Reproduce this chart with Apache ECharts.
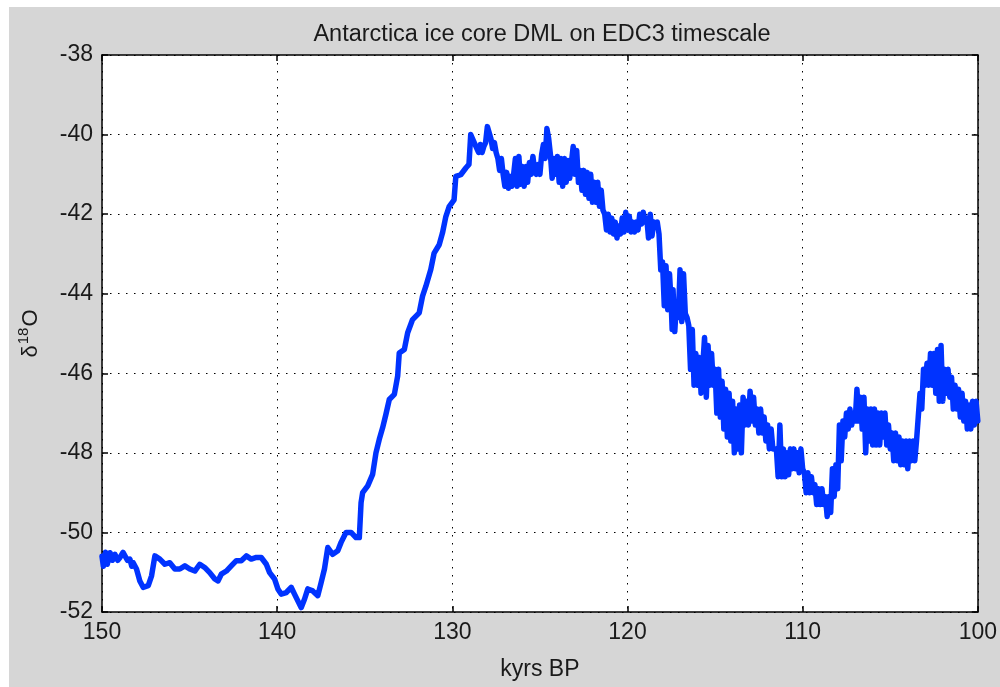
<!DOCTYPE html>
<html>
<head>
<meta charset="utf-8">
<script src="https://cdn.jsdelivr.net/npm/echarts@6/dist/echarts.min.js"></script>
<style>
html,body{margin:0;padding:0;background:#fff;}
#chart{width:1000px;height:687px;}
</style>
</head>
<body>
<div id="chart"></div>
<script>
// Age (kyrs BP)
const kyrBP = [
150.0,149.92,149.8,149.7,149.54,149.4,149.26,149.1,148.97,148.8,148.69,148.55,148.41,148.3,148.22,148.03,147.84,147.65,147.36,147.17,146.98,146.70,146.41,146.13,145.84,145.56,145.27,144.99,144.70,144.42,144.14,143.85,143.56,143.38,143.19,142.90,142.62,142.33,142.05,141.76,141.48,141.19,140.91,140.62,140.43,140.15,139.96,139.77,139.48,139.20,139.01,138.82,138.63,138.44,138.25,137.97,137.68,137.49,137.30,137.11,136.83,136.54,136.35,136.07,135.78,135.50,135.31,
135.21,135.12,134.83,134.55,134.36,134.17,133.98,133.79,133.60,133.31,133.12,133.03,132.74,132.55,132.27,131.89,131.70,131.51,131.23,131.04,130.75,130.56,130.37,130.18,129.90,129.80,129.52,129.23,
129.05,128.95,128.85,128.7,128.5,128.4,128.3,128.2,128.1,128.0,127.9,127.8,127.7,127.6,127.5,127.4,127.3,127.2,127.1,127.0,126.9,126.8,126.7,126.6,126.5,126.4,126.3,126.2,126.1,126.0,125.9,125.8,125.7,125.6,125.5,125.4,125.3,125.2,125.1,125.0,124.9,124.8,124.7,124.6,124.5,124.4,124.3,124.2,124.1,124.0,123.9,123.8,123.7,123.6,123.5,123.4,123.3,123.2,123.1,123.0,122.9,122.8,122.7,122.6,122.5,122.4,122.3,122.2,122.1,122.0,121.9,121.8,121.7,121.6,121.5,121.4,121.3,121.2,121.1,121.0,120.9,120.8,120.7,120.6,120.5,120.4,120.3,120.2,120.1,120.0,119.9,119.8,119.7,119.6,119.5,119.4,119.3,119.2,119.1,119.0,
118.9,118.8,118.7,118.6,118.5,118.4,118.3,118.2,118.1,118.0,117.9,117.8,117.7,117.6,117.5,117.45,117.4,117.3,117.2,117.1,117.0,116.9,116.8,116.7,116.6,116.5,116.4,116.3,116.2,116.1,116.0,115.9,115.8,115.6,115.5,115.4,115.3,115.2,115.1,115.0,114.9,114.8,114.7,114.6,114.5,114.4,114.3,114.2,114.1,114.0,113.9,113.8,113.7,113.6,113.5,113.4,113.3,113.2,113.1,113.0,112.9,112.8,112.7,112.6,112.5,112.4,112.3,112.2,112.1,112.0,111.9,111.8,111.7,111.5,111.4,111.3,111.2,111.1,111.0,110.9,110.8,110.7,110.6,110.5,110.4,110.3,110.2,
110.1,110.0,109.9,109.8,109.7,109.6,109.5,109.4,109.3,109.2,109.1,109.0,108.9,108.8,108.7,108.6,108.5,108.4,108.3,108.2,108.1,108.0,107.9,107.8,107.7,107.6,107.5,107.4,107.3,107.2,107.1,107.0,106.9,106.8,106.7,106.6,106.5,106.4,106.3,106.2,106.1,106.0,105.9,105.8,105.7,105.6,105.5,105.4,105.3,105.2,105.1,105.0,104.9,104.8,104.7,104.6,104.5,104.4,104.3,104.2,104.1,104.0,103.9,103.8,103.7,103.6,103.5,103.4,103.3,103.2,103.1,103.0,102.9,102.8,102.7,102.6,102.5,102.4,102.3,102.2,102.1,102.0,101.9,101.8,101.7,101.6,101.5,101.4,101.3,101.2,101.1,101.0,100.9,100.8,100.7,100.6,100.5,100.4,100.3,100.2,100.1,100.0
];
// delta 18O (per mil)
const d18O = [
-50.6,-50.85,-50.5,-50.8,-50.51,-50.7,-50.55,-50.7,-50.63,-50.5,-50.46,-50.7,-50.67,-50.85,-50.76,-50.92,-51.22,-51.38,-51.34,-51.09,-50.59,-50.67,-50.80,-50.76,-50.92,-50.92,-50.84,-50.92,-50.97,-50.80,-50.88,-51.01,-51.17,-51.22,-51.05,-50.97,-50.84,-50.71,-50.71,-50.59,-50.67,-50.63,-50.63,-50.80,-51.01,-51.17,-51.42,-51.55,-51.51,-51.38,-51.55,-51.72,-51.89,-51.68,-51.42,-51.47,-51.59,-51.26,-50.92,-50.38,-50.55,-50.46,-50.25,-50.00,-50.00,-50.13,-50.13,
-49.25,-49.00,-48.83,-48.54,-48.00,-47.66,-47.37,-47.03,-46.66,-46.53,-46.07,-45.49,-45.40,-44.98,-44.65,-44.48,-44.06,-43.81,-43.39,-42.98,-42.77,-42.47,-42.06,-41.81,-41.64,-41.05,-41.01,-40.84,
-40.75,-40.0,-40.1,-40.25,-40.45,-40.25,-40.45,-40.3,-40.2,-39.8,-39.85,-40.1,-40.35,-40.2,-40.45,-40.6,-40.9,-40.6,-41.0,-41.3,-40.95,-41.35,-41.05,-41.3,-41.0,-40.6,-41.3,-40.55,-41.25,-40.8,-41.3,-40.8,-41.2,-40.7,-41.0,-40.55,-40.9,-41.0,-40.75,-41.0,-40.5,-40.25,-40.6,-39.85,-40.1,-40.5,-41.1,-40.6,-41.0,-40.55,-41.2,-40.6,-41.3,-40.6,-41.2,-40.65,-41.1,-40.7,-40.3,-41.0,-40.4,-41.2,-40.9,-41.4,-40.9,-41.5,-40.95,-41.6,-41.0,-41.7,-41.2,-41.7,-41.2,-41.8,-41.4,-41.9,-42.0,-42.4,-42.0,-42.45,-42.1,-42.5,-42.2,-42.6,-42.3,-42.5,-42.1,-42.45,-41.95,-42.4,-42.05,-42.45,-42.2,-42.45,-42.2,-42.4,-42.0,-42.25,-41.95,-42.2,
-42.1,-42.6,-42.0,-42.55,-42.2,-42.3,-42.2,-42.5,-43.4,-43.2,-44.3,-43.3,-44.4,-43.5,-44.3,-44.9,-43.9,-44.95,-44.2,-44.6,-43.4,-44.7,-43.5,-44.5,-44.6,-44.8,-45.9,-44.9,-46.3,-45.5,-46.3,-45.6,-46.5,-45.1,-46.6,-45.3,-46.3,-45.5,-46.3,-45.9,-47.0,-45.9,-47.1,-46.2,-47.4,-46.4,-47.6,-46.5,-47.7,-46.7,-48.0,-46.9,-47.9,-46.8,-48.0,-46.6,-47.3,-46.7,-47.3,-46.45,-47.2,-46.6,-47.3,-46.9,-47.5,-46.9,-47.5,-47.1,-47.7,-47.3,-47.9,-47.4,-47.9,-47.9,-48.6,-47.3,-48.6,-47.9,-48.6,-48.0,-48.55,-47.9,-48.4,-47.9,-48.4,-48.0,-48.5,
-47.9,-48.4,-48.5,-49.0,-48.5,-49.0,-48.6,-49.0,-48.8,-49.3,-48.9,-49.3,-48.9,-49.3,-49.1,-49.6,-49.1,-49.5,-48.4,-49.1,-48.3,-48.9,-47.3,-48.2,-47.2,-47.6,-47.0,-47.4,-46.9,-47.3,-47.0,-47.2,-46.4,-47.2,-46.6,-47.4,-46.6,-48.0,-46.9,-47.7,-46.9,-47.8,-46.9,-47.8,-47.0,-47.8,-47.0,-47.6,-47.0,-47.8,-47.3,-47.9,-47.5,-48.2,-47.5,-48.2,-47.6,-48.3,-47.7,-48.3,-47.7,-48.4,-47.7,-48.2,-47.7,-48.2,-47.7,-47.1,-46.5,-46.9,-45.9,-46.3,-45.75,-46.3,-45.5,-46.3,-45.5,-46.5,-45.4,-46.7,-45.3,-46.7,-45.9,-46.5,-45.9,-46.6,-46.1,-46.9,-46.3,-46.9,-46.4,-47.1,-46.5,-47.2,-46.7,-47.4,-46.8,-47.4,-46.7,-47.3,-46.7,-47.2
];
const xTicks = [150, 140, 130, 120, 110, 100];
const yTicks = [-52, -50, -48, -46, -44, -42, -40, -38];
const titleText = 'Antarctica ice core DML on EDC3 timescale';
const xName = 'kyrs BP';

const pairs = kyrBP.map((k, i) => [k, d18O[i]]);
const FONT = 'Liberation Sans, Arial, sans-serif';
const TXT = '#1a1a1a';

const chart = echarts.init(document.getElementById('chart'), null, {renderer: 'canvas'});
const splitDots = {show: true, lineStyle: {color: '#000', type: [1.5, 6.5], width: 1}};
chart.setOption({
  animation: false,
  backgroundColor: '#ffffff',
  graphic: [{type: 'rect', left: 9, top: 7, shape: {width: 991, height: 680}, style: {fill: '#d6d6d6'}, z: -10, silent: true}],
  title: {
    text: titleText, left: 537, top: 18, textAlign: 'center',
    textStyle: {fontFamily: FONT, fontSize: 23.5, fontWeight: 'normal', color: TXT}
  },
  grid: {left: 102, right: 19, top: 55, bottom: 75, backgroundColor: '#fff', show: true, borderWidth: 0},
  xAxis: [{
    type: 'value', inverse: true, min: 100, max: 150, interval: 10,
    name: xName, nameLocation: 'middle', nameGap: 46,
    nameTextStyle: {fontFamily: FONT, fontSize: 23, color: TXT},
    axisLine: {show: true, lineStyle: {color: '#000', width: 1.5}},
    axisTick: {show: true, inside: true, length: 6, lineStyle: {color: '#000', width: 1.5}},
    axisLabel: {fontFamily: FONT, fontSize: 23, color: TXT, margin: 9,
      formatter: v => xTicks.includes(v) ? String(v) : ''},
    splitLine: splitDots
  }, {
    type: 'value', inverse: true, min: 100, max: 150, interval: 10, position: 'top',
    axisLine: {show: true, lineStyle: {color: '#000', width: 1.5}},
    axisTick: {show: true, inside: true, length: 6, lineStyle: {color: '#000', width: 1.5}},
    axisLabel: {show: false}, splitLine: {show: false}
  }],
  yAxis: [{
    type: 'value', min: -52, max: -38, interval: 2,
    name: '{d|δ}{s|18}{d|O}', nameLocation: 'middle', nameGap: 60, nameRotate: 90,
    nameTextStyle: {fontFamily: FONT, color: TXT,
      rich: {d: {fontFamily: FONT, fontSize: 22, color: TXT, verticalAlign: 'bottom', lineHeight: 26},
             s: {fontFamily: FONT, fontSize: 15, color: TXT, verticalAlign: 'top', lineHeight: 26, padding: [0, 1, 10, 1]}}},
    axisLine: {show: true, lineStyle: {color: '#000', width: 1.5}},
    axisTick: {show: true, inside: true, length: 6, lineStyle: {color: '#000', width: 1.5}},
    axisLabel: {fontFamily: FONT, fontSize: 23, color: TXT, margin: 9,
      formatter: v => yTicks.includes(v) ? String(v) : ''},
    splitLine: splitDots
  }, {
    type: 'value', min: -52, max: -38, interval: 2, position: 'right',
    axisLine: {show: true, lineStyle: {color: '#000', width: 1.5}},
    axisTick: {show: true, inside: true, length: 6, lineStyle: {color: '#000', width: 1.5}},
    axisLabel: {show: false}, splitLine: {show: false}
  }],
  series: [{
    type: 'line', data: pairs, xAxisIndex: 0, yAxisIndex: 0,
    showSymbol: false, symbol: 'none', smooth: false,
    lineStyle: {color: '#0033ff', width: 5.5, join: 'round', cap: 'round'},
    clip: true
  }]
});
</script>
</body>
</html>
